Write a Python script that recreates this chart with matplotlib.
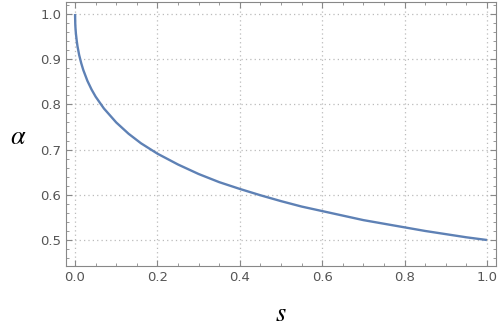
import numpy as np
import matplotlib
matplotlib.use("Agg")
import matplotlib.pyplot as plt
from matplotlib.ticker import MultipleLocator

plt.rcParams["mathtext.fontset"] = "stix"

# values
s = [0.0, 0.0005, 0.001, 0.002, 0.004, 0.006, 0.01, 0.015, 0.02, 0.03,
     0.04, 0.05, 0.07, 0.1, 0.13, 0.16, 0.2, 0.25, 0.3, 0.35,
     0.4, 0.45, 0.5, 0.55, 0.6, 0.65, 0.7, 0.75, 0.8, 0.85,
     0.9, 0.95, 1.0]
alpha = [1.0, 0.978, 0.969, 0.957, 0.941, 0.928, 0.909, 0.891, 0.876, 0.852,
         0.833, 0.817, 0.791, 0.760, 0.735, 0.714, 0.691, 0.667, 0.646, 0.628,
         0.613, 0.599, 0.586, 0.574, 0.564, 0.554, 0.544, 0.536, 0.528, 0.520,
         0.513, 0.506, 0.5]

xticks = [0.0, 0.2, 0.4, 0.6, 0.8, 1.0]
yticks = [0.5, 0.6, 0.7, 0.8, 0.9, 1.0]

fig = plt.figure(figsize=(4.98, 3.32), dpi=100)
ax = fig.add_axes([66/498, 66/332, 430/498, 264/332])

ax.plot(s, alpha, color="#5E81B5", lw=1.7, solid_capstyle="butt")

ax.set_xlim(-0.022, 1.022)
ax.set_ylim(0.4425, 1.0265)
ax.set_xticks(xticks)
ax.set_yticks(yticks)
ax.set_xticklabels(["%.1f" % v for v in xticks])
ax.set_yticklabels(["%.1f" % v for v in yticks])
ax.xaxis.set_minor_locator(MultipleLocator(0.05))
ax.yaxis.set_minor_locator(MultipleLocator(0.02))

gray = "#888888"
ax.grid(True, which="major", color="#bbbbbb", ls=(0, (1, 2.5)), lw=0.9)
ax.tick_params(which="both", direction="in", top=True, right=True,
               color=gray, labelcolor="#555555", labelsize=9.5)
ax.tick_params(which="major", length=4, width=0.8)
ax.tick_params(which="minor", length=2.2, width=0.6)
for sp in ax.spines.values():
    sp.set_color(gray)
    sp.set_linewidth(0.8)

ax.set_xlabel(r"$s$", fontsize=19, labelpad=12)
ax.set_ylabel(r"$\alpha$", fontsize=19, rotation=0, va="center")
ax.yaxis.set_label_coords(-0.11, 0.49)

fig.savefig("out.png", dpi=100)
